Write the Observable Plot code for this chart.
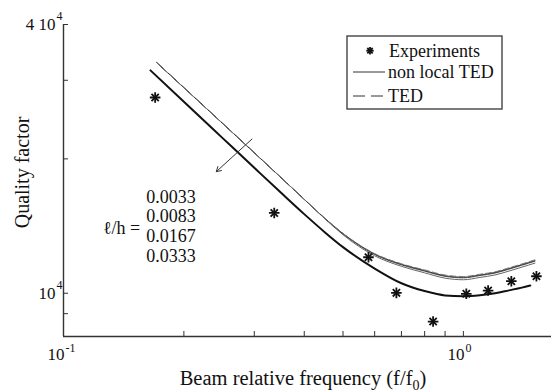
<!DOCTYPE html>
<html><head><meta charset="utf-8">
<script src="https://cdn.jsdelivr.net/npm/d3@7"></script>
<script src="https://cdn.jsdelivr.net/npm/@observablehq/plot@0.6"></script>
<style>
body{margin:0;background:#fff;}
#wrap{position:relative;width:551px;height:392px;font-family:"Liberation Serif","Times New Roman",Times,"DejaVu Serif",serif;color:#111;overflow:hidden;}
#wrap > svg{position:absolute;left:0;top:0;}
.ov{position:absolute;white-space:nowrap;}
</style></head><body><div id="wrap"></div>
<script>
// Experimental points
const expFreq = [0.1695, 0.3365, 0.579, 0.680, 0.840, 1.017, 1.153, 1.318, 1.523];
const expQ    = [27450, 15130, 12040, 10020, 8640, 9970, 10140, 10640, 10915];

// Model curves (upper group: small l/h and TED; lower: l/h = 0.0333)
const upFreq = [0.171,0.2,0.25,0.3,0.35,0.4,0.45,0.5,0.6,0.7,0.8,0.9,1.0,1.1,1.2,1.3,1.4,1.51];
const q0033  = [32870,28880,24010,20640,18150,16230,14720,13600,12240,11610,11240,10945,10860,10990,11130,11360,11590,11835];
const q0083  = [32870,28880,24010,20640,18150,16230,14720,13590,12210,11575,11205,10910,10825,10955,11095,11320,11550,11795];
const q0167  = [32870,28880,24010,20640,18150,16230,14700,13520,12130,11490,11110,10810,10720,10850,10990,11210,11440,11680];
const qTED   = [32870,28880,24010,20640,18150,16230,14730,13620,12270,11645,11280,10985,10900,11030,11170,11400,11630,11880];
const lowFreq = [0.165,0.2,0.25,0.3,0.35,0.4,0.45,0.5,0.6,0.7,0.8,0.9,1.0,1.1,1.2,1.3,1.4,1.47];
const q0333   = [31570,26850,22260,19100,16790,15040,13705,12685,11360,10530,10114,9890,9850,9900,10000,10150,10295,10405];

// Axis ticks and labels
const xTicks = [0.2,0.3,0.4,0.5,0.6,0.7,0.8,0.9,1.0];
const yTicks = [9000,10000,20000,30000,40000];
const xTickLabels = [{v:0.1, base:"10", exp:"-1"}, {v:1, base:"10", exp:"0"}];
const yTickLabels = [{v:10000, base:"10", exp:"4"}, {v:40000, base:"4 10", exp:"4"}];

// Annotation: l/h values and arrow
const lhValues = ["0.0033","0.0083","0.0167","0.0333"];
const lhQ = [16450, 14840, 13390, 12080];
const lhFreq = 0.161;
const lhLabel = {f: 0.1555, q: 13950, text: "ℓ/h ="};
const arrowData = [{x1: 0.296, y1: 22150, x2: 0.241, y2: 18720}];

const toRows = (fs, qs) => fs.map((f, i) => ({f, q: qs[i]}));
const exp = toRows(expFreq, expQ);
const serif = "'Liberation Serif', 'Times New Roman', Times, 'DejaVu Serif', serif";

const plot = Plot.plot({
  width: 551, height: 392,
  marginLeft: 63, marginRight: 0, marginTop: 24, marginBottom: 56,
  style: {fontFamily: serif, fontSize: "17px", color: "#111", background: "transparent", overflow: "visible"},
  x: {type: "log", domain: [0.1, 1.661]},
  y: {type: "log", domain: [8000, 40000]},
  marks: [
    Plot.axisX({ticks: xTicks, tickSize: -5, tickFormat: () => "", label: null, stroke: "#333"}),
    Plot.axisY({ticks: yTicks, tickSize: -5, tickFormat: () => "", label: null, stroke: "#333"}),
    Plot.ruleX([0.1], {stroke: "#333", strokeWidth: 1.4}),
    Plot.ruleY([8000], {stroke: "#333", strokeWidth: 1.4}),
    // tick labels with superscripts
    Plot.text(xTickLabels, {x: "v", text: "base", frameAnchor: "bottom", dy: 23, dx: 1, textAnchor: "end", fontSize: 17, fill: "#111"}),
    Plot.text(xTickLabels, {x: "v", text: "exp", frameAnchor: "bottom", dy: 15, dx: 2, textAnchor: "start", fontSize: 12, fill: "#111"}),
    Plot.text(yTickLabels, {y: "v", text: "base", frameAnchor: "left", dx: -8, textAnchor: "end", fontSize: 17, fill: "#111"}),
    Plot.text(yTickLabels, {y: "v", text: "exp", frameAnchor: "left", dx: -7, dy: -8, textAnchor: "start", fontSize: 12, fill: "#111"}),
    Plot.text(["Quality factor"], {frameAnchor: "left", dx: -41, dy: -8, rotate: -90, textAnchor: "middle", fontSize: 20, fill: "#111"}),
    // curves
    Plot.line(toRows(upFreq, q0167), {x: "f", y: "q", stroke: "#666", strokeWidth: 1, curve: "monotone-x"}),
    Plot.line(toRows(upFreq, q0083), {x: "f", y: "q", stroke: "#555", strokeWidth: 1, curve: "monotone-x"}),
    Plot.line(toRows(upFreq, q0033), {x: "f", y: "q", stroke: "#333", strokeWidth: 1, curve: "monotone-x"}),
    Plot.line(toRows(upFreq, qTED), {x: "f", y: "q", stroke: "#777", strokeWidth: 1, strokeDasharray: "6,3", curve: "monotone-x"}),
    Plot.line(toRows(lowFreq, q0333), {x: "f", y: "q", stroke: "#111", strokeWidth: 2, curve: "monotone-x"}),
    // arrow
    Plot.arrow(arrowData, {x1: "x1", y1: "y1", x2: "x2", y2: "y2", stroke: "#333", strokeWidth: 1, headLength: 8}),
    // experiments
    Plot.dot(exp, {x: "f", y: "q", symbol: "plus", r: 3.5, stroke: "#111", strokeWidth: 1.8}),
    Plot.dot(exp, {x: "f", y: "q", symbol: "times", r: 3.4, stroke: "#111", strokeWidth: 1.8}),
    // l/h annotation
    Plot.text(lhValues, {x: () => lhFreq, y: (d, i) => lhQ[i], text: d => d, textAnchor: "start", fontSize: 18, fill: "#111"}),
    Plot.text([lhLabel], {x: "f", y: "q", text: "text", textAnchor: "end", fontSize: 18, fill: "#111"})
  ]
});

const wrap = document.getElementById("wrap");
wrap.appendChild(plot);

// x-axis title with subscript
const xt = document.createElement("div");
xt.className = "ov";
xt.style.cssText = "left:0;width:606px;top:366px;text-align:center;font-size:20.5px;line-height:24px;";
xt.innerHTML = "Beam relative frequency (f/f<sub style='font-size:14px;vertical-align:-5px'>0</sub>)";
wrap.appendChild(xt);

// legend
const lg = document.createElementNS("http://www.w3.org/2000/svg", "svg");
lg.setAttribute("width", 551); lg.setAttribute("height", 392);
lg.style.cssText = "position:absolute;left:0;top:0;pointer-events:none;";
lg.innerHTML = `
<rect x="347" y="36" width="155" height="73" fill="white" stroke="#444" stroke-width="1.4"/>
<g stroke="#111" stroke-width="1.8">
 <line x1="366.3" y1="50.7" x2="373.7" y2="50.7"/><line x1="370" y1="47" x2="370" y2="54.4"/>
 <line x1="367.3" y1="48" x2="372.7" y2="53.4"/><line x1="367.3" y1="53.4" x2="372.7" y2="48"/>
</g>
<line x1="353" y1="72" x2="385" y2="72" stroke="#333" stroke-width="1"/>
<line x1="353" y1="96" x2="385" y2="96" stroke="#333" stroke-width="1" stroke-dasharray="12,6"/>
<g font-family="${serif}" font-size="18" fill="#111" dominant-baseline="central">
 <text x="389" y="51">Experiments</text>
 <text x="388" y="72">non local TED</text>
 <text x="388" y="96">TED</text>
</g>`;
wrap.appendChild(lg);
</script></body></html>
